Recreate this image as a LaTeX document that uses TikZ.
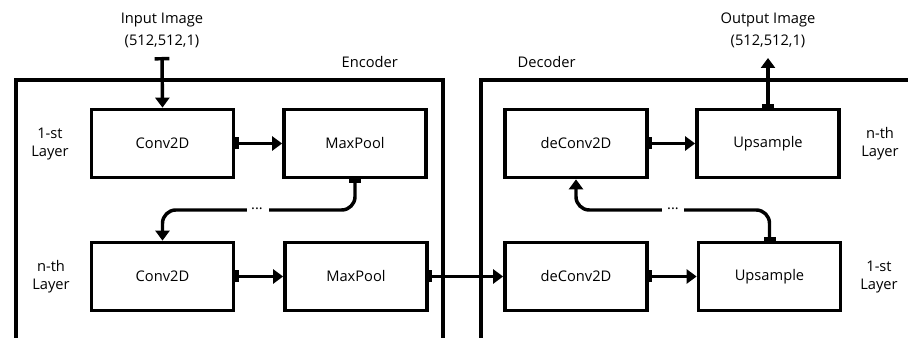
\documentclass[tikz,border=0pt]{standalone}
\usepackage{fontspec}
\setmainfont{Open Sans}
\usetikzlibrary{arrows.meta}

\begin{document}
\begin{tikzpicture}[
  x=0.75pt, y=-0.75pt,
  every node/.style={font=\fontsize{11pt}{13.5pt}\selectfont},
  block/.style={draw, line width=2.8pt, minimum width=106.5pt, minimum height=51pt, inner sep=0pt},
  frame/.style={line width=2.8pt},
  conn/.style={line width=2.6pt, {Bar[width=9pt,line width=2.6pt]}-{Triangle[width=10.5pt,length=7.5pt]}},
  gap/.style={fill=white, inner sep=0pt, minimum width=16.5pt, minimum height=6pt},
  lbl/.style={align=center}
]
\useasboundingbox (0,0) rectangle (908,338);

% encoder and decoder frames, open at the bottom
\draw[frame] (16,345) -- (16,80) -- (443,80) -- (443,345);
\draw[frame] (481,345) -- (481,80) -- (915,80);
\node[anchor=west] (enc) at (337,62) {Encoder};
\node[anchor=west] (dec) at (513,62) {Decoder};

% encoder blocks
\node[block] (c1) at (162.5,143.5) {Conv2D};
\node[block] (m1) at (355,143.5) {MaxPool};
\node[block] (c2) at (162.5,276.5) {Conv2D};
\node[block] (m2) at (356,276.5) {MaxPool};

% decoder blocks
\node[block] (d1) at (576,143.5) {deConv2D};
\node[block] (u1) at (768,143.5) {Upsample};
\node[block] (d2) at (576,276.5) {deConv2D};
\node[block] (u2) at (769.5,276.5) {Upsample};

% layer labels
\node[lbl] (l1) at (50,144) {1-st\\Layer};
\node[lbl] (l2) at (51,277) {n-th\\Layer};
\node[lbl] (l3) at (880,144) {n-th\\Layer};
\node[lbl] (l4) at (879,277) {1-st\\Layer};

% input and output
\node[lbl, font=\fontsize{11pt}{16.5pt}\selectfont] (in) at (162,30) {Input Image\\(512,512,1)};
\node[lbl, font=\fontsize{11pt}{16.5pt}\selectfont] (out) at (768,30) {Output Image\\(512,512,1)};
\coordinate (inS) at (162,57);
\coordinate (outE) at (768,58);

\draw[conn, {Bar[width=11pt,line width=2.6pt]}-{Triangle[width=10.5pt,length=7.5pt]}] (inS) -- (c1.north);
\draw[conn] (u1.north) -- (outE);

% connectors inside the encoder
\draw[conn] (c1.east) -- (m1.west);
\draw[conn] (c2.east) -- (m2.west);
\draw[conn, rounded corners=10] (m1.south) |- (258,210) -| (c2.north);
\node[gap] (g1) at (258,210) {};
\node (dots1) at (257,209) {...};

% bridge from encoder to decoder
\draw[conn] (m2.east) -- (d2.west);

% connectors inside the decoder
\draw[conn] (d1.east) -- (u1.west);
\draw[conn] (d2.east) -- (u2.west);
\draw[conn, rounded corners=10] (u2.north) |- (673,210) -| (d1.south);
\node[gap] (g2) at (673,210) {};
\node (dots2) at (673,209) {...};
\end{tikzpicture}
\end{document}
